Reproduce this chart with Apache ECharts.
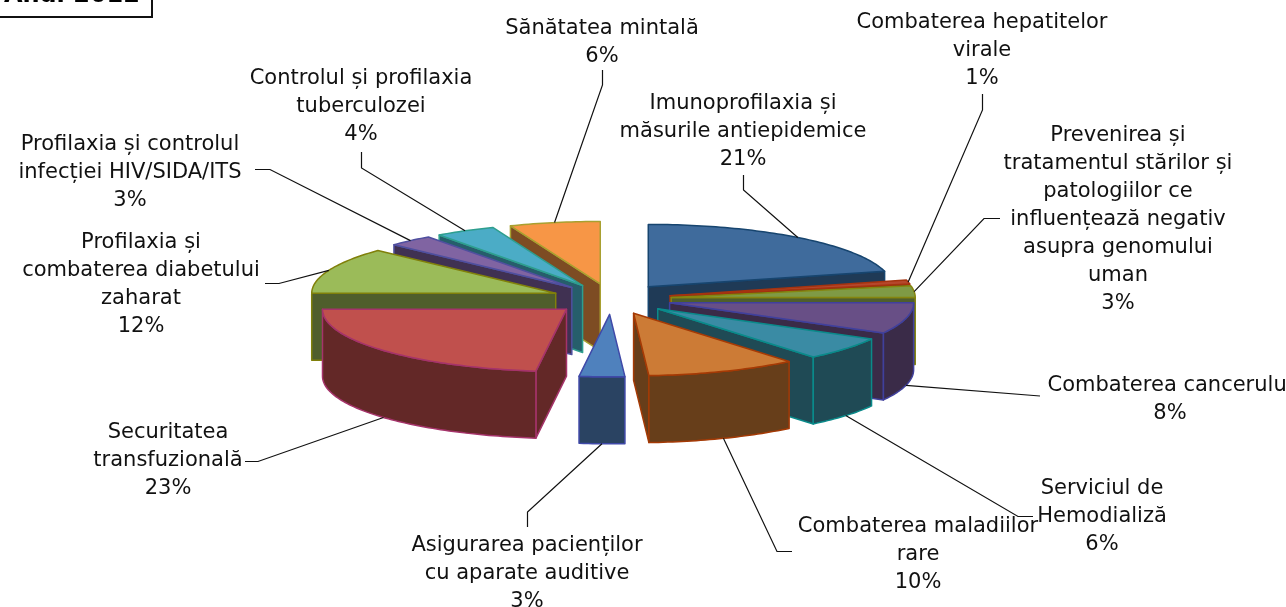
<!DOCTYPE html>
<html>
<head>
<meta charset="utf-8">
<style>
  html, body { margin: 0; padding: 0; background: #fff; }
  #main { width: 1286px; height: 607px; }
</style>
<script src="https://cdn.jsdelivr.net/npm/echarts@6/dist/echarts.min.js"></script>
</head>
<body>
<div id="main"></div>
<script>
// ponderi din grafic (%), in ordinea feliilor, de la ora 12 in sensul acelor de ceasornic
const categories = [
  'Imunoprofilaxia și\nmăsurile antiepidemice',
  'Combaterea hepatitelor\nvirale',
  'Prevenirea și\ntratamentul stărilor și\npatologiilor ce\ninfluențează negativ\nasupra genomului\numan',
  'Combaterea cancerului',
  'Serviciul de\nHemodializă',
  'Combaterea maladiilor\nrare',
  'Asigurarea pacienților\ncu aparate auditive',
  'Securitatea\ntransfuzională',
  'Profilaxia și\ncombaterea diabetului\nzaharat',
  'Profilaxia și controlul\ninfecției HIV/SIDA/ITS',
  'Controlul și profilaxia\ntuberculozei',
  'Sănătatea mintală'
];
const values = [21, 1, 3, 8, 6, 10, 3, 23, 12, 3, 4, 6];
const titleText = 'Anul 2012';

// stiluri: fata de sus, peretele lateral, conturul
const topColors = ['#3f6b9c', '#b5472c', '#7f9a45', '#684f86', '#3a8ba4', '#cc7b36', '#4f81bd', '#c0504d', '#9bbb59', '#8064a2', '#4bacc6', '#f79646'];
const sideColors = ['#1f3a56', '#6b2c1e', '#4f5e2c', '#3a2b48', '#1f4a55', '#673e1a', '#2a4362', '#632827', '#4f5e2c', '#403152', '#265e6b', '#7d4c23'];
const edgeColors = ['#17456f', '#a5330f', '#85850f', '#40409c', '#0a8a8a', '#a53a05', '#3f49a8', '#a5336a', '#80800a', '#4f4f9f', '#2e9e8e', '#a8a030'];

// geometria proiectiei
const cx = 611.5, cy = 299, radius = 244, tilt = 0.256, explode = 60, depth = 67;

// pozitia etichetelor (y = mijlocul primului rand) si cotul liniilor de legatura
const labelLayout = [
  { x: 743, y: 102, elbow: [[743.5, 190], [743.5, 175]] },
  { x: 982, y: 21, elbow: [[982.5, 110], [982.5, 94]] },
  { x: 1118, y: 134, elbow: [[984, 218.5], [1000, 218.5]] },
  { x: 1170, y: 384, elbow: [[1040, 396]] },
  { x: 1102, y: 487, elbow: [[1018, 516.5], [1033, 516.5]] },
  { x: 918, y: 525, elbow: [[777, 551.5], [792, 551.5]] },
  { x: 527, y: 544, elbow: [[527.5, 512], [527.5, 527]] },
  { x: 168, y: 431, elbow: [[258, 461.5], [245, 461.5]] },
  { x: 141, y: 241, elbow: [[279, 283.5], [265, 283.5]] },
  { x: 130, y: 143, elbow: [[270, 169.5], [255, 169.5]] },
  { x: 361, y: 77, elbow: [[361.5, 168], [361.5, 152]] },
  { x: 602, y: 27, elbow: [[602.5, 85], [602.5, 70]] }
];

const total = values.reduce((a, b) => a + b, 0);
const starts = [];
values.reduce((acc, v, i) => { starts[i] = acc; return acc + v; }, 0);
const angleOf = (v) => (v / total) * Math.PI * 2;

// ordinea de desenare: feliile din spate primele
const depthRank = [];
values.map((v, i) => ({ i, c: Math.cos(angleOf(starts[i] + v / 2)) }))
  .sort((a, b) => b.c - a.c)
  .forEach((o, r) => { depthRank[o.i] = r; });

function project(a, r, base) {
  return [base[0] + r * Math.sin(a), base[1] - r * Math.cos(a) * tilt];
}
const down = (p) => [p[0], p[1] + depth];

function renderSlice(params, api) {
  const i = params.dataIndex;
  const a0 = angleOf(starts[i]);
  const a1 = angleOf(starts[i] + api.value(0));
  const mid = (a0 + a1) / 2;
  const apex = project(mid, explode, [cx, cy]);
  const arc = (from, to) => {
    const pts = [];
    const n = Math.max(2, Math.ceil((to - from) / 0.02));
    for (let k = 0; k <= n; k++) pts.push(project(from + ((to - from) * k) / n, radius, apex));
    return pts;
  };
  const style = (fill) => ({ fill, stroke: edgeColors[i], lineWidth: 1.5, lineJoin: 'round' });
  const z = depthRank[i] * 10;
  const children = [];
  const wall = (p, z2) => {
    children.push({ type: 'polygon', shape: { points: [apex, p, down(p), down(apex)] }, style: style(sideColors[i]), z2 });
  };
  if (Math.sin(a0) < 0) wall(project(a0, radius, apex), z + 1);
  if (Math.sin(a1) > 0) wall(project(a1, radius, apex), z + 1);
  // peretele exterior, doar partea care priveste spre noi
  const f0 = Math.max(a0, Math.PI / 2);
  const f1 = Math.min(a1, (Math.PI * 3) / 2);
  if (f1 > f0) {
    const top = arc(f0, f1);
    children.push({ type: 'polygon', shape: { points: top.concat(top.map(down).reverse()) }, style: style(sideColors[i]), z2: z + 2 });
  }
  children.push({ type: 'polygon', shape: { points: [apex].concat(arc(a0, a1)) }, style: style(topColors[i]), z2: z + 3 });
  return { type: 'group', children };
}

function renderLabel(params, api) {
  const i = params.dataIndex;
  const v = api.value(0);
  const mid = angleOf(starts[i] + v / 2);
  const layout = labelLayout[i];
  let anchor = project(mid, explode + radius, [cx, cy]);
  if (Math.cos(mid) < 0) anchor = down(anchor);
  return {
    type: 'group',
    children: [
      { type: 'polyline', shape: { points: [anchor].concat(layout.elbow) }, style: { fill: null, stroke: '#111', lineWidth: 1.2 }, z2: 500 },
      {
        type: 'text', x: layout.x, y: layout.y - 12, z2: 600,
        style: {
          text: categories[i] + '\n' + v + '%',
          fill: '#111', font: '21px "DejaVu Sans"', align: 'center', verticalAlign: 'top', lineHeight: 28
        }
      }
    ]
  };
}

const chart = echarts.init(document.getElementById('main'));
chart.setOption({
  animation: false,
  backgroundColor: '#fff',
  graphic: [
    { type: 'rect', shape: { x: -10, y: -10, width: 162, height: 27 }, style: { fill: '#fff', stroke: '#111', lineWidth: 2 }, z: 1 },
    { type: 'text', x: 140, y: 7.5, style: { text: titleText, fill: '#000', font: 'bold 24px "DejaVu Sans"', align: 'right', verticalAlign: 'bottom' }, z: 2 }
  ],
  series: [
    { type: 'custom', coordinateSystem: 'none', renderItem: renderSlice, data: values.map((v) => [v]), silent: true },
    { type: 'custom', coordinateSystem: 'none', renderItem: renderLabel, data: values.map((v) => [v]), silent: true, z: 3 }
  ]
});
</script>
</body>
</html>
